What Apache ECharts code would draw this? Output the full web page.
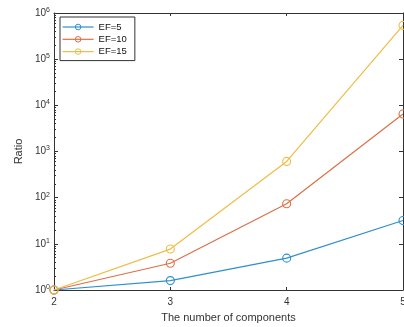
<!DOCTYPE html>
<html>
<head>
<meta charset="utf-8">
<script src="https://cdn.jsdelivr.net/npm/echarts@6/dist/echarts.min.js"></script>
<style>
html, body { margin: 0; padding: 0; background: #fff; }
#chart { width: 404px; height: 327px; }
</style>
</head>
<body>
<div id="chart"></div>
<script>
let chart = echarts.init(document.getElementById('chart'));

// data
let components = [2, 3, 4, 5];
let ef5 = [1, 1.6, 4.9, 32];
let ef10 = [1, 3.8, 74, 6500];
let ef15 = [1, 7.7, 610, 540000];
let seriesNames = ['EF=5', 'EF=10', 'EF=15'];
let seriesColors = ['#2f8fcc', '#dc7048', '#eebd45'];
let yMajor = [1, 10, 100, 1000, 10000, 100000, 1000000];

// minor ticks 2..9 inside every decade
let yMinor = [];
yMajor.slice(0, -1).forEach(d => {
    for (let k = 2; k <= 9; k++) yMinor.push(d * k);
});

let axisColor = '#333';
let font = 'Liberation Sans, Arial, sans-serif';

function pairs(values) {
    return components.map((c, i) => [c, values[i]]);
}

function makeSeries(name, values, color) {
    return {
        name: name,
        type: 'line',
        data: pairs(values),
        symbol: 'circle',
        symbolSize: 8,
        showAllSymbol: true,
        lineStyle: {width: 1.2, color: color},
        itemStyle: {color: 'rgba(255,255,255,0)', borderColor: color, borderWidth: 1.1},
        emphasis: {disabled: true},
        z: 3
    };
}

let option = {
    animation: false,
    grid: {left: 54, right: 1, top: 13, bottom: 37, outerBoundsMode: 'none', containLabel: false},
    legend: {
        orient: 'vertical',
        left: 60,
        top: 17,
        data: seriesNames,
        itemWidth: 31,
        itemHeight: 7,
        itemGap: 0.3,
        padding: [4, 8, 3, 2],
        borderColor: axisColor,
        borderWidth: 1,
        borderRadius: 0,
        backgroundColor: '#fff',
        itemStyle: {borderWidth: 1},
        lineStyle: {width: 1.2},
        textStyle: {fontSize: 9.5, lineHeight: 12, color: '#111', fontFamily: font}
    },
    xAxis: [
        {
            type: 'value',
            min: 2,
            max: 5,
            interval: 1,
            name: 'The number of components',
            nameLocation: 'middle',
            nameGap: 22,
            nameTextStyle: {fontSize: 11, color: axisColor, fontFamily: font},
            axisLine: {lineStyle: {color: axisColor, width: 1}},
            axisTick: {inside: true, length: 3, lineStyle: {color: axisColor}},
            axisLabel: {fontSize: 10, color: axisColor, margin: 7, fontFamily: font},
            splitLine: {show: false}
        },
        {
            type: 'value',
            position: 'top',
            min: 2,
            max: 5,
            interval: 1,
            axisLine: {show: true, lineStyle: {color: axisColor, width: 1}},
            axisTick: {inside: true, length: 3, lineStyle: {color: axisColor}},
            axisLabel: {show: false},
            splitLine: {show: false}
        }
    ],
    yAxis: [
        {
            type: 'log',
            logBase: 10,
            min: 1,
            max: 1000000,
            name: 'Ratio',
            nameLocation: 'middle',
            nameGap: 26,
            nameTextStyle: {fontSize: 11, color: axisColor, fontFamily: font},
            axisLine: {show: true, lineStyle: {color: axisColor, width: 1}},
            axisTick: {inside: true, length: 4, lineStyle: {color: axisColor}},
            axisLabel: {
                margin: 4,
                color: axisColor,
                formatter: function (v) {
                    return '{b|10}{s|' + Math.round(Math.log10(v)) + '}';
                },
                rich: {
                    b: {fontSize: 10, lineHeight: 13, color: axisColor, fontFamily: font},
                    s: {fontSize: 7, lineHeight: 8, verticalAlign: 'top', color: axisColor, fontFamily: font}
                }
            },
            splitLine: {show: false}
        },
        {
            type: 'log',
            logBase: 10,
            min: 1,
            max: 1000000,
            position: 'left',
            axisLine: {show: false},
            axisTick: {show: true, inside: true, length: 2, customValues: yMinor, lineStyle: {color: axisColor}},
            axisLabel: {show: false},
            splitLine: {show: false}
        },
        {
            type: 'log',
            logBase: 10,
            min: 1,
            max: 1000000,
            position: 'right',
            axisLine: {show: true, lineStyle: {color: axisColor, width: 1}},
            axisTick: {inside: true, length: 4, lineStyle: {color: axisColor}},
            axisLabel: {show: false},
            splitLine: {show: false}
        }
    ],
    series: [
        makeSeries(seriesNames[0], ef5, seriesColors[0]),
        makeSeries(seriesNames[1], ef10, seriesColors[1]),
        makeSeries(seriesNames[2], ef15, seriesColors[2])
    ]
};

chart.setOption(option);
</script>
</body>
</html>
